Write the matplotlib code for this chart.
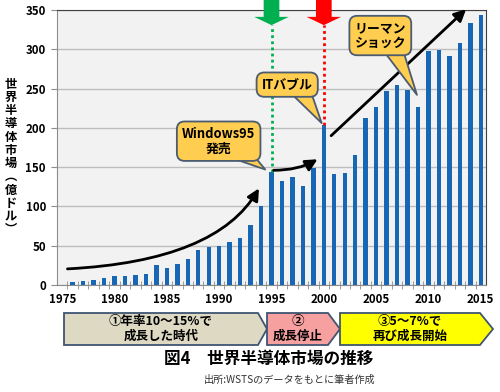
import matplotlib
matplotlib.use('Agg')
import matplotlib.pyplot as plt
from matplotlib.patches import Polygon

plt.rcParams['font.family'] = ['Noto Sans CJK JP', 'DejaVu Sans']

# data
years = list(range(1976, 2016))
market = [4.2, 5.1, 6.4, 8.5, 11.5, 11.5, 12.5, 14, 25.5, 21.5,
          26.5, 32.5, 44.5, 48.5, 50, 54.5, 59.5, 77, 101, 144,
          132, 137, 125.5, 149, 204, 141, 143, 165, 213, 226,
          247, 255, 248, 226, 298, 299, 291, 308, 333, 344]
xticks = [1975, 1980, 1985, 1990, 1995, 2000, 2005, 2010, 2015]
yticks = [0, 50, 100, 150, 200, 250, 300, 350]
ylabel = '世界半導体市場︵億ドル︶'
phase_labels = ['①年率10～15%で\n成長した時代', '②\n成長停止', '③5～7%で\n再び成長開始']
phase_colors = ['#DDD9C3', '#F6A0A0', '#FFFF00']
title = '図4　世界半導体市場の推移'
source = '出所:WSTSのデータをもとに筆者作成'

W, H = 500, 392
fig = plt.figure(figsize=(W / 100, H / 100), dpi=100)
ax = fig.add_axes([57 / W, 1 - 285 / H, (486 - 57) / W, 275 / H])

def px(x, y):
    return (x / W, 1 - y / H)

# bars
ax.set_facecolor('#F2F2F2')
ax.bar(years, market, width=0.42, color='#1767B5', zorder=3)
ax.set_xlim(1974.5, 2015.5)
ax.set_ylim(0, 350)
ax.set_yticks(yticks)
ax.set_xticks(xticks)
ax.set_xticks([y + 0.5 for y in range(1975, 2015)], minor=True)
ax.grid(axis='y', color='#BEBEBE', lw=1, zorder=1)
for s in ax.spines.values():
    s.set_color('#8C8C8C')
ax.spines['top'].set_color('#404040')
ax.spines['right'].set_color('#404040')
ax.tick_params(axis='x', which='major', length=0, pad=6)
ax.tick_params(axis='x', which='minor', length=6, direction='inout', color='#8C8C8C')
ax.tick_params(axis='y', length=4, color='#8C8C8C', pad=4)
for lab in ax.get_xticklabels() + ax.get_yticklabels():
    lab.set_fontweight('bold')
    lab.set_fontsize(8.3)

# vertical axis title, stacked characters
fig.text(*px(11, 157), '\n'.join(ylabel), ha='center', va='center',
         fontsize=8.8, fontweight='bold', linespacing=1.02)

# event markers at 1995 and 2000
xt = ax.get_xaxis_transform()
for yr, col, top_val in [(1995, '#00B050', 144), (2000, '#FF0000', 204)]:
    ax.plot([yr, yr], [top_val, 331], color=col, lw=2, ls=(0, (1, 1.2)), zorder=4)
    arrow = Polygon([(yr - 0.75, 1.04), (yr + 0.75, 1.04), (yr + 0.75, 0.975),
                     (yr + 1.65, 0.975), (yr, 0.945), (yr - 1.65, 0.975),
                     (yr - 0.75, 0.975)], closed=True, transform=xt,
                    fc=col, ec='none', clip_on=False, zorder=6)
    ax.add_patch(arrow)

# trend arrows
ap = dict(arrowstyle='-|>,head_length=0.7,head_width=0.35', color='black', lw=2,
          shrinkA=0, shrinkB=0)
ax.annotate('', xy=(1993.8, 123), xytext=(1975.5, 20.5), annotation_clip=False,
            arrowprops=dict(ap, connectionstyle='angle3,angleA=3,angleB=60'), zorder=5)
ax.annotate('', xy=(1999.4, 160), xytext=(1995.2, 146), annotation_clip=False,
            arrowprops=dict(ap, connectionstyle='angle3,angleA=0,angleB=30'), zorder=5)
ax.annotate('', xy=(2013.6, 351), xytext=(2000.7, 190), annotation_clip=False,
            arrowprops=ap, zorder=5)

# callouts
callouts = [('Windows95\n発売', (1994.4, 147), (1989.95, 183), (0.75, 0.2)),
            ('ITバブル', (1999.8, 206), (1996.5, 255), (0.75, 0.2)),
            ('リーマン\nショック', (2008.9, 242), (2005.4, 317.5), (0.72, 0.15))]
for txt, tip, pos, rel in callouts:
    ax.annotate(txt, xy=tip, xytext=pos, ha='center', va='center',
                fontsize=9.3, fontweight='bold', linespacing=1.1, zorder=7,
                bbox=dict(boxstyle='round,pad=0.4,rounding_size=0.6',
                          fc='#FFCD4F', ec='#4B5B70', lw=1.3),
                arrowprops=dict(arrowstyle='wedge,tail_width=1.5', fc='#FFCD4F',
                                ec='#4B5B70', lw=1.3, patchA=None, relpos=rel,
                                shrinkA=0, shrinkB=0))

# phase arrows under the axis
shapes = [(64, 258, 267), (267, 328, 340), (340, 480, 493)]
top, bot = 313, 345
for (x0, x1, xtip), lab, col in zip(shapes, phase_labels, phase_colors):
    pts = [px(x0, top), px(x1, top), px(xtip, (top + bot) / 2), px(x1, bot), px(x0, bot)]
    fig.patches.append(Polygon(pts, closed=True, transform=fig.transFigure,
                               fc=col, ec='#3F5573', lw=1.3))
    cx, cy = px((x0 + x1) / 2, (top + bot) / 2)
    fig.text(cx, cy, lab, ha='center', va='center', fontsize=9,
             fontweight='bold', linespacing=1.1)

fig.text(*px(269, 359), title, ha='center', va='center', fontsize=12, fontweight='bold')
fig.text(*px(290, 380), source, ha='center', va='center', fontsize=7.3, color='#333333')

fig.savefig('out.png', dpi=100)
